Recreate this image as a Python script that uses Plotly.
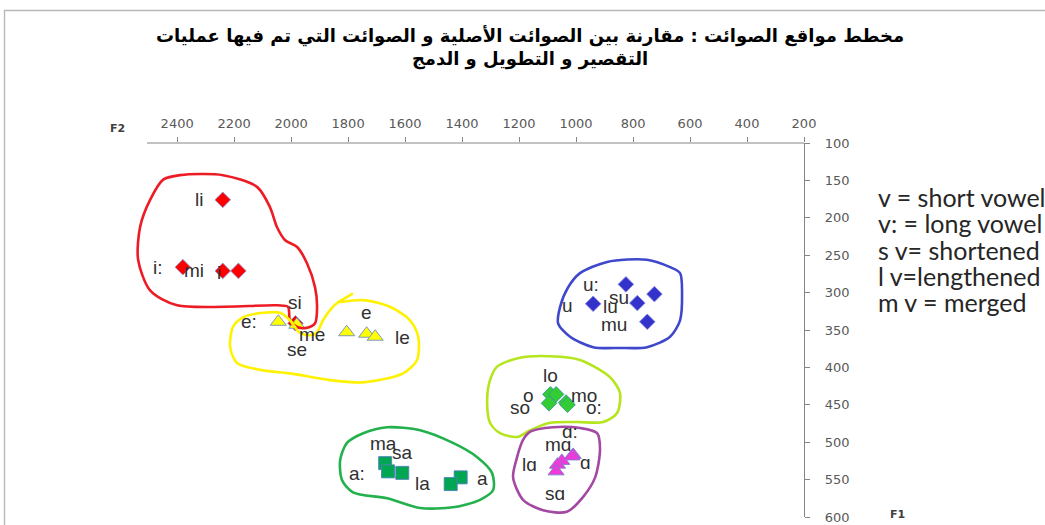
import plotly.graph_objects as go

# ---- Formant values (Hz): F2 on the horizontal axis, F1 on the vertical axis ----
i_labels = ["li", "i:", "mi", "i", "si"]
i_f2 = [2240, 2380, 2240, 2185, 1985]
i_f1 = [176, 266, 271, 271, 341]

e_labels = ["e:", "se", "me", "e", "le"]
e_f2 = [2045, 1980, 1805, 1735, 1705]
e_f1 = [339, 343, 353, 355, 359]

u_labels = ["u:", "su", "lu", "u", "mu"]
u_f2 = [825, 725, 785, 940, 750]
u_f1 = [289, 302, 314, 315, 339]

o_labels = ["lo", "o", "so", "mo", "o:"]
o_f2 = [1090, 1070, 1095, 1035, 1030]
o_f1 = [436, 436, 448, 447, 450]

back_a_labels = ["ɑ:", "ɑ", "mɑ", "lɑ", "sɑ"]
back_a_f2 = [1010, 1015, 1050, 1065, 1070]
back_a_f1 = [517, 519, 525, 530, 539]

a_labels = ["ma", "a:", "sa", "a", "la"]
a_f2 = [1670, 1660, 1610, 1405, 1440]
a_f1 = [528, 539, 541, 547, 556]

# ---- Hand-drawn outlines around each vowel group (F2, F1) ----
i_outline_f2 = [2390, 2239, 2119, 2074, 2049, 2021, 1979, 1944, 1916, 1909, 1916, 1944,
                1979, 2004, 2011, 2049, 2400, 2495, 2537, 2530, 2495, 2449, 2390]
i_outline_f1 = [143, 143, 159, 186, 213, 230, 239, 261, 293, 319, 341, 347,
                346, 337, 319, 317, 317, 297, 256, 212, 176, 149, 143]

e_outline_f2 = [1783, 1804, 1835, 1863, 1888, 1909, 1933, 1969, 2004, 2039, 2098, 2169, 2204,
                2214, 2190, 2098, 2004, 1863, 1747, 1607, 1558, 1554, 1583, 1653, 1747, 1828]
e_outline_f1 = [301, 306, 313, 323, 337, 353, 357, 354, 337, 327, 327, 333, 346,
                373, 394, 404, 408, 417, 420, 408, 390, 359, 337, 319, 310, 313]

u_outline_f2 = [986, 891, 751, 670, 635, 628, 635, 670, 751, 846, 940, 1021, 1063, 1056, 1028, 986]
u_outline_f1 = [274, 259, 256, 266, 274, 301, 337, 359, 373, 374, 373, 359, 341, 319, 293, 274]

o_outline_f2 = [1277, 1197, 1091, 986, 881, 846, 856, 905, 997, 1091, 1161, 1207, 1267, 1302, 1312, 1302, 1277]
o_outline_f1 = [399, 387, 385, 390, 413, 434, 461, 473, 473, 474, 484, 493, 488, 474, 444, 417, 399]

back_a_outline_f2 = [1161, 1081, 986, 926, 916, 933, 975, 1032, 1116, 1186, 1221, 1207, 1186, 1161]
back_a_outline_f1 = [486, 480, 481, 488, 510, 547, 573, 593, 591, 577, 547, 520, 497, 486]

a_outline_f2 = [1804, 1747, 1663, 1547, 1432, 1347, 1295, 1291, 1337, 1432, 1547, 1663, 1783, 1821, 1828, 1804]
a_outline_f1 = [501, 488, 480, 484, 501, 520, 541, 564, 577, 587, 588, 575, 567, 551, 524, 501]

legend_lines = ["v = short vowel", "v: = long vowel", "s v= shortened", "l v=lengthened", "m v = merged"]

title_text = ("مخطط مواقع الصوائت : مقارنة بين الصوائت الأصلية و الصوائت التي تم فيها عمليات"
              "<br>التقصير و التطويل و الدمج")

# ---- Page geometry ----
W, H = 1045, 525
ML, MR, MT, MB = 131, 241, 143, 8
PW, PH = W - ML - MR, H - MT - MB


def paper_x(px):
    return (px - ML) / PW


def paper_y(py):
    return (H - MB - py) / PH


# Per-group styling: marker, outline colour, label pixel offsets (dx, dy; dy downward)
groups = [
    dict(labels=i_labels, f2=i_f2, f1=i_f1, symbol="diamond", size=12, color="#ff0000",
         edge="#8d9ad8", outline=(i_outline_f2, i_outline_f1), ocolor="#ed1c24",
         shifts=[(-24, 0), (-25, 0), (-29, 0), (-19, 2), (0, -21)]),
    dict(labels=e_labels, f2=e_f2, f1=e_f1, symbol="triangle-up", size=14, color="#ffff00",
         edge="#6f8fbf", outline=(e_outline_f2, e_outline_f1), ocolor="#fff200",
         shifts=[(-29, 0), (0, 25), (-35, 2), (0, -21), (27, 1)]),
    dict(labels=u_labels, f2=u_f2, f1=u_f1, symbol="diamond", size=12, color="#3333cc",
         edge="#8a8ae0", outline=(u_outline_f2, u_outline_f1), ocolor="#3f48cc",
         shifts=[(-35, 0), (-35, 3), (-27, 3), (-26, 2), (-33, 3)]),
    dict(labels=o_labels, f2=o_f2, f1=o_f1, symbol="diamond", size=12, color="#33cc33",
         edge="#3a9a9a", outline=(o_outline_f2, o_outline_f1), ocolor="#b5e61d",
         shifts=[(0, -19), (-28, 1), (-29, 4), (18, -7), (26, 3)]),
    dict(labels=back_a_labels, f2=back_a_f2, f1=back_a_f1, symbol="triangle-up", size=14,
         color="#ee3ad8", edge="#7a7acc", outline=(back_a_outline_f2, back_a_outline_f1),
         ocolor="#a349a4", shifts=[(-3, -23), (14, 6), (-4, -16), (-28, 0), (-1, 22)]),
    dict(labels=a_labels, f2=a_f2, f1=a_f1, symbol="square", size=13, color="#00a651",
         edge="#4f81bd", outline=(a_outline_f2, a_outline_f1), ocolor="#22b14c",
         shifts=[(-2, -20), (-31, 2), (0, -20), (22, 1), (-28, -1)]),
]

fig = go.Figure()

for g in groups:
    fig.add_trace(go.Scatter(
        x=g["f2"], y=g["f1"], mode="markers", hoverinfo="skip", showlegend=False,
        cliponaxis=False,
        marker=dict(symbol=g["symbol"], size=g["size"], color=g["color"],
                    line=dict(color=g["edge"], width=0.9)),
    ))

for g in groups:
    ox, oy = g["outline"]
    fig.add_trace(go.Scatter(
        x=ox, y=oy, mode="lines", hoverinfo="skip", showlegend=False,
        line=dict(color=g["ocolor"], width=2.6, shape="spline", smoothing=0.8),
    ))

annotations = []
for g in groups:
    for lab, x, y, (dx, dy) in zip(g["labels"], g["f2"], g["f1"], g["shifts"]):
        annotations.append(dict(
            x=x, y=y, xref="x", yref="y", text=lab, showarrow=False,
            xanchor="center", yanchor="middle", xshift=dx, yshift=-dy,
            font=dict(family="Liberation Sans, Arial, sans-serif", size=19, color="#303030"),
        ))

for k, line in enumerate(legend_lines):
    annotations.append(dict(
        x=paper_x(876), y=paper_y(197 + 26.3 * k), xref="paper", yref="paper",
        xanchor="left", yanchor="middle", text=line, showarrow=False,
        font=dict(family="Lato, sans-serif", size=25, color="#262626"),
    ))

annotations.append(dict(
    x=paper_x(530), y=paper_y(47), xref="paper", yref="paper", xanchor="center",
    yanchor="middle", text=title_text, showarrow=False,
    font=dict(family="DejaVu Sans, sans-serif", size=18, color="#000000", weight="bold"),
))

annotations.append(dict(
    x=paper_x(117), y=paper_y(128), xref="paper", yref="paper", text="<b>F2</b>",
    xanchor="center", yanchor="middle", showarrow=False,
    font=dict(family="DejaVu Sans, sans-serif", size=11, color="#404040"),
))
annotations.append(dict(
    x=paper_x(897), y=paper_y(514), xref="paper", yref="paper", text="<b>F1</b>",
    xanchor="center", yanchor="middle", showarrow=False,
    font=dict(family="DejaVu Sans, sans-serif", size=11, color="#404040"),
))

shapes = [
    # chart frame
    dict(type="rect", xref="paper", yref="paper", x0=paper_x(4.5), x1=paper_x(1060),
         y0=paper_y(540), y1=paper_y(10.5), line=dict(color="#b8b8b8", width=1.4),
         layer="below"),
    # top F2 axis line
    dict(type="line", xref="paper", yref="paper", x0=paper_x(147), x1=1, y0=1, y1=1,
         line=dict(color="#868686", width=1.2), layer="below"),
]

tick_font = dict(family="DejaVu Sans, sans-serif", size=13, color="#595959")

fig.update_layout(
    width=W, height=H,
    margin=dict(l=ML, r=MR, t=MT, b=MB, pad=0, autoexpand=False),
    paper_bgcolor="#ffffff", plot_bgcolor="#ffffff",
    showlegend=False,
    annotations=annotations,
    shapes=shapes,
    xaxis=dict(
        range=[2562, 200], side="top", showline=False, showgrid=False, zeroline=False,
        automargin=False,
        tickvals=list(range(2400, 199, -200)), ticks="outside", ticklen=5,
        tickcolor="#868686", tickfont=tick_font, ticklabelstandoff=4,
    ),
    yaxis=dict(
        range=[600, 100], side="right", showline=True, linecolor="#868686", linewidth=1.2,
        automargin=False,
        showgrid=False, zeroline=False, dtick=50, tick0=100, ticks="outside", ticklen=5,
        tickcolor="#868686", tickfont=tick_font, ticklabelstandoff=12,
    ),
)

fig.write_html("out.html")
